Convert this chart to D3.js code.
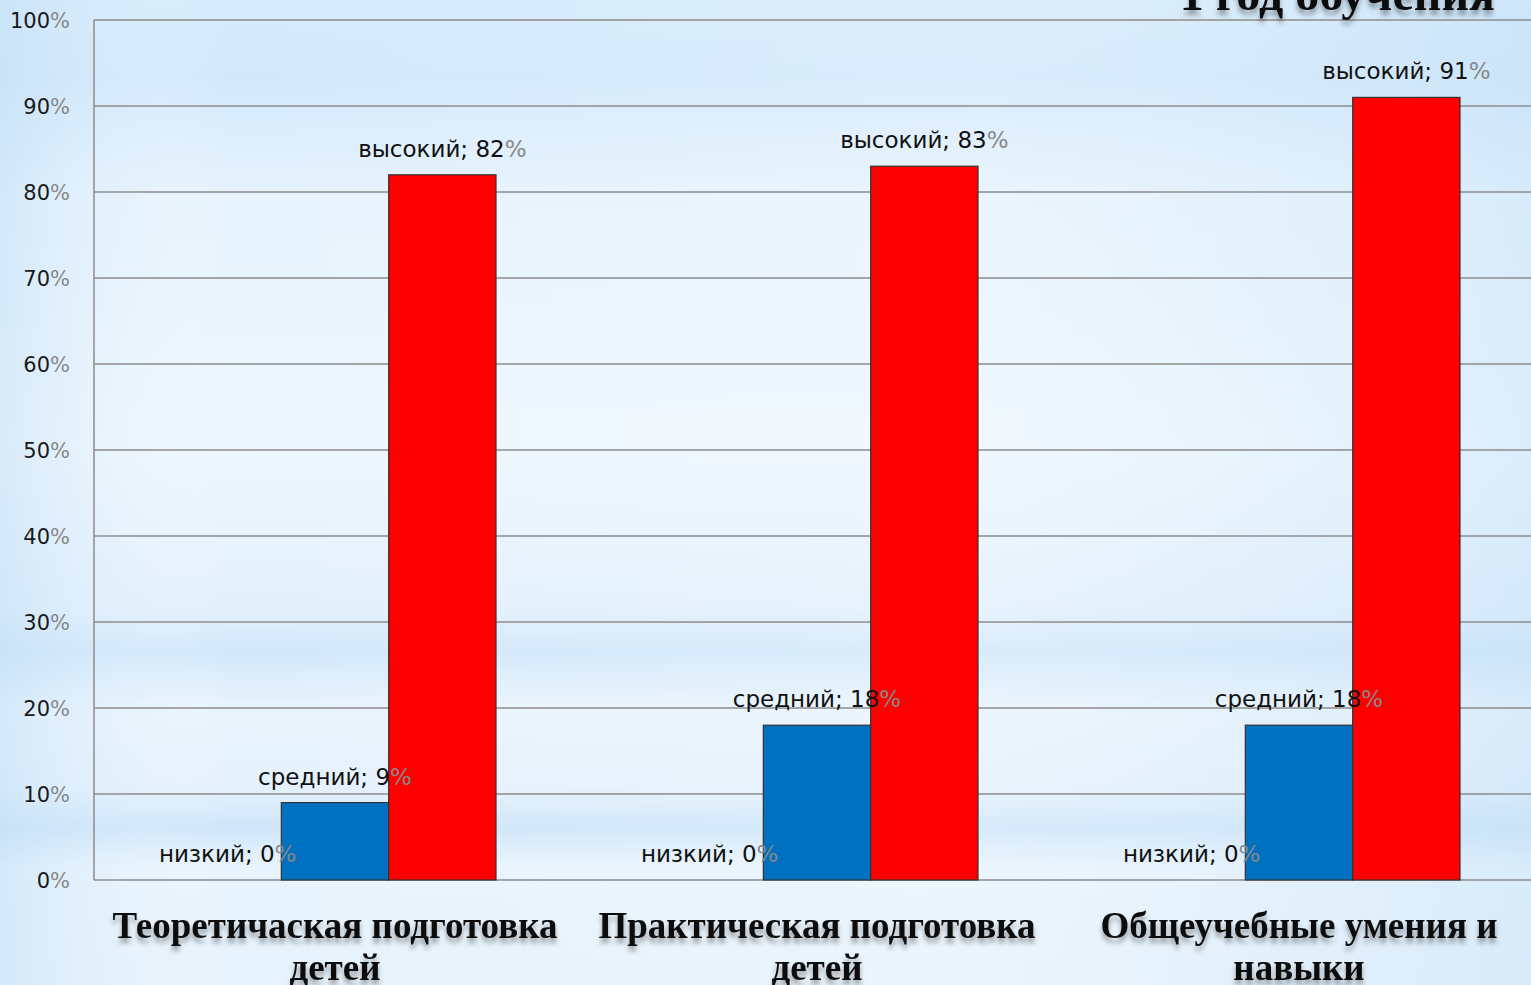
<!DOCTYPE html>
<html><head><meta charset="utf-8">
<script src="https://cdn.jsdelivr.net/npm/d3@7"></script>
<style>html,body{margin:0;padding:0;overflow:hidden;background:#e3f1fc}</style>
</head><body>
<svg id="c" width="1531" height="985"></svg>
<script>
const categories = [["Теоретичаская подготовка","детей"],["Практическая подготовка","детей"],["Общеучебные умения и","навыки"]];
const seriesNames = ["низкий","средний","высокий"];
const lowValues = [0,0,0];
const midValues = [9,18,18];
const highValues = [82,83,91];
const yTicks = [0,10,20,30,40,50,60,70,80,90,100];
const title = "1 год обучения";
const colors = ["#0070c0","#0070c0","#ff0000"];

(function(){
const svg = d3.select("#c");
const W=1531,H=985;
const defs = svg.append("defs");
const bg = defs.append("linearGradient").attr("id","bg").attr("x1",0).attr("y1",0).attr("x2",0).attr("y2",1);
[[0,"#d6ebfb"],[0.08,"#d3e9fb"],[0.2,"#e6f3fd"],[0.45,"#eef7fe"],[0.62,"#e2f0fc"],[0.66,"#d2e8fa"],[0.72,"#e9f4fd"],[0.8,"#e4f1fc"],[0.84,"#cfe6f9"],[0.88,"#e8f4fd"],[1,"#e6f2fc"]].forEach(s=>bg.append("stop").attr("offset",s[0]).attr("stop-color",s[1]));
const bgh = defs.append("linearGradient").attr("id","bgh").attr("x1",0).attr("y1",0).attr("x2",1).attr("y2",0);
[[0,"#bcdcf5",0.45],[0.15,"#ffffff",0],[0.6,"#ffffff",0.15],[1,"#bcdcf5",0.35]].forEach(s=>bgh.append("stop").attr("offset",s[0]).attr("stop-color",s[1]).attr("stop-opacity",s[2]));
const sh = defs.append("filter").attr("id","sh").attr("x","-10%").attr("y","-30%").attr("width","120%").attr("height","180%");
sh.append("feDropShadow").attr("dx",0).attr("dy",5).attr("stdDeviation",2.5).attr("flood-color","#000").attr("flood-opacity",0.35);

svg.append("rect").attr("width",W).attr("height",H).attr("fill","url(#bg)");
svg.append("rect").attr("width",W).attr("height",H).attr("fill","url(#bgh)");

const pl=94, pr=1540, pt=20, pb=880;
const y = d3.scaleLinear().domain([0,100]).range([pb,pt]);
const x0 = d3.scaleBand().domain(d3.range(categories.length)).range([pl,pr]).paddingInner(0).paddingOuter(0);
const x1 = d3.scaleBand().domain(d3.range(3)).range([80, x0.bandwidth()-80]);

svg.append("g").selectAll("line").data(yTicks).join("line")
  .attr("x1",pl).attr("x2",W).attr("y1",d=>y(d)).attr("y2",d=>y(d))
  .attr("stroke","#8c8c8c").attr("stroke-width",1.5);
svg.append("line").attr("x1",pl).attr("x2",pl).attr("y1",pt).attr("y2",pb).attr("stroke","#8c8c8c").attr("stroke-width",1.5);

const yl = svg.append("g").selectAll("text").data(yTicks).join("text")
  .attr("x",70).attr("y",d=>y(d)+8).attr("text-anchor","end")
  .attr("font-family","DejaVu Sans").attr("font-size",21).attr("fill","#1a1a1a");
yl.append("tspan").text(d=>d);
yl.append("tspan").attr("fill","#888").text("%");

const data = [];
categories.forEach((c,i)=>{
  [lowValues[i],midValues[i],highValues[i]].forEach((v,j)=>data.push({i,j,v}));
});

svg.append("g").selectAll("rect").data(data.filter(d=>d.v>0)).join("rect")
  .attr("x",d=>x0(d.i)+x1(d.j)).attr("width",x1.bandwidth())
  .attr("y",d=>y(d.v)).attr("height",d=>y(0)-y(d.v))
  .attr("fill",d=>colors[d.j]).attr("stroke","#333").attr("stroke-width",1.2);

const lbl = svg.append("g").selectAll("text").data(data).join("text")
  .attr("x",d=>x0(d.i)+x1(d.j)+x1.bandwidth()/2).attr("y",d=>y(d.v)-18)
  .attr("text-anchor","middle").attr("font-family","DejaVu Sans").attr("font-size",23).attr("fill","#111");
lbl.append("tspan").text(d=>seriesNames[d.j]+"; "+d.v);
lbl.append("tspan").attr("fill","#888").text("%");

const cl = svg.append("g").selectAll("text").data(categories).join("text")
  .attr("x",(d,i)=>x0(i)+x0.bandwidth()/2).attr("text-anchor","middle")
  .attr("font-family","Liberation Serif").attr("font-weight","bold").attr("font-size",37).attr("fill","#111")
  .attr("filter","url(#sh)");
cl.selectAll("tspan").data(d=>d).join("tspan").attr("x",function(){return this.parentNode.getAttribute("x");})
  .attr("y",(d,k)=>938+k*42).text(d=>d);

svg.append("text").attr("x",1495).attr("y",10).attr("text-anchor","end")
  .attr("font-family","Liberation Serif").attr("font-weight","bold").attr("font-size",48).attr("fill","#111")
  .attr("filter","url(#sh)").text(title);
})();
</script>
</body></html>
